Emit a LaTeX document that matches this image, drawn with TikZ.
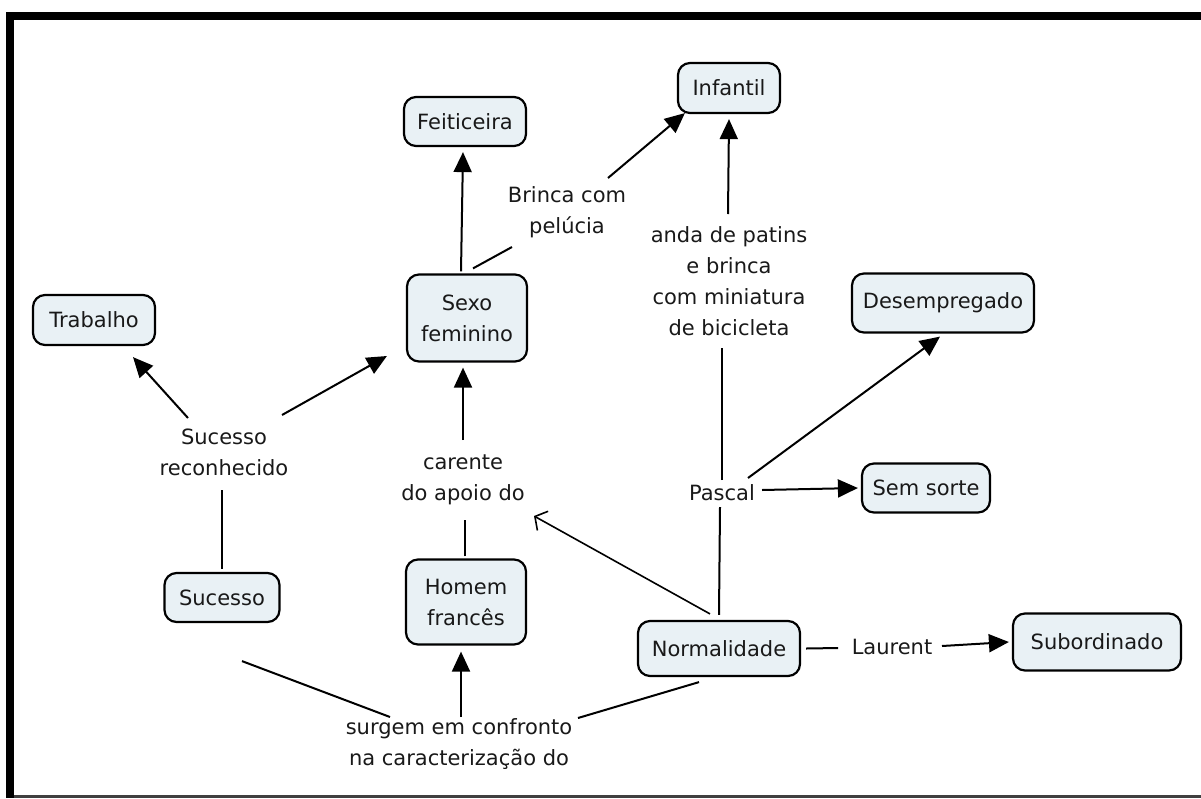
\documentclass[tikz,border=0pt]{standalone}
\usepackage{fontspec}
\setmainfont{DejaVu Sans}
\usetikzlibrary{arrows.meta,calc}
\definecolor{boxfill}{RGB}{233,241,245}
\definecolor{ink}{RGB}{25,25,25}

\begin{document}
\begin{tikzpicture}[x=1pt,y=-1pt,
  concept/.style={draw=black,line width=2.2pt,rounded corners=12pt,fill=boxfill,
    text=ink,font=\fontsize{21}{31}\selectfont,align=center,inner sep=0pt},
  phrase/.style={text=ink,font=\fontsize{21}{31}\selectfont,align=center,inner sep=0pt},
  link/.style={line width=2pt,draw=black},
  arr/.style={link,-{Triangle[length=20pt,width=18pt]}},
  openarr/.style={line width=1.6pt,-{Straight Barb[length=9pt,width=22pt]}}
]
\useasboundingbox (0,0) rectangle (1201,798);

% frame
\fill (6,12) rectangle (1201,20);
\fill (6,12) rectangle (14,798);
\fill[black!75] (14,795) rectangle (1201,798);

% concepts
\node[concept,minimum width=102pt,minimum height=50pt] (infantil) at (729,88) {Infantil};
\node[concept,minimum width=122pt,minimum height=49pt] (feiti) at (465,121.5) {Feiticeira};
\node[concept,minimum width=122pt,minimum height=50pt] (trab) at (94,320) {Trabalho};
\node[concept,minimum width=120pt,minimum height=87pt] (sexo) at (467,318) {Sexo\\feminino};
\node[concept,minimum width=182pt,minimum height=59pt] (desemp) at (943,303) {Desempregado};
\node[concept,minimum width=128pt,minimum height=49pt] (semsorte) at (926,488) {Sem sorte};
\node[concept,minimum width=115pt,minimum height=49pt] (sucesso) at (222,597.5) {Sucesso};
\node[concept,minimum width=120pt,minimum height=85pt] (homem) at (466,602) {Homem\\francês};
\node[concept,minimum width=162pt,minimum height=55pt] (normal) at (719,648.5) {Normalidade};
\node[concept,minimum width=168pt,minimum height=57pt] (subord) at (1097,642) {Subordinado};

% linking phrases
\node[phrase] (brinca) at (567,212) {Brinca com\\pelúcia};
\node[phrase] (anda) at (729,281) {anda de patins\\e brinca\\com miniatura\\de bicicleta};
\node[phrase] (pascal) at (722,493) {Pascal};
\node[phrase] (laurent) at (892,647) {Laurent};
\node[phrase] (carente) at (463,480) {carente\\do apoio do};
\node[phrase] (sucrec) at (224,452) {Sucesso\\reconhecido};
\node[phrase] (surgem) at (459,744) {surgem em confronto\\na caracterização do};

% connectors
\draw[arr] ($(sexo.north)+(-6,-2)$) -- ($(feiti.south)+(-2,5)$);
\draw[link] ($(sexo.north)+(6,-5)$) -- ($(brinca)+(-55,35)$);
\draw[arr] ($(brinca)+(41,-34)$) -- ($(infantil.south west)+(8,-1)$);
\draw[arr] ($(anda)+(-1,-67)$) -- ($(infantil.south)+(0,5)$);
\draw[link] ($(normal.north)+(0,-5)$) -- ($(pascal)+(-2,14)$);
\draw[link] ($(pascal)+(0,-13)$) -- ($(anda)+(-7,67)$);
\draw[arr] ($(pascal)+(26,-15)$) -- ($(desemp.south)+(-3,3)$);
\draw[arr] ($(pascal)+(40,-3)$) -- ($(semsorte.west)+(-3,0)$);
\draw[link] ($(normal.east)+(5,0)$) -- ($(laurent)+(-54,1)$);
\draw[arr] ($(laurent)+(50,-1)$) -- ($(subord.west)+(-3,0)$);
\draw[arr] ($(carente)+(0,-40)$) -- ($(sexo.south)+(-4,5)$);
\draw[link] ($(homem.north)+(-1,-2)$) -- ($(carente)+(2,40)$);
\draw[openarr] ($(normal.north)+(-9,-6)$) -- ($(carente)+(71,36)$);
\draw[link] ($(sucesso.north)+(0,-3)$) -- ($(sucrec)+(-2,38)$);
\draw[arr] ($(sucrec)+(-36,-34)$) -- ($(trab.south)+(39,11)$);
\draw[arr] ($(sucrec)+(58,-37)$) -- ($(sexo.west)+(-19,38)$);
\draw[link] ($(sucesso.south)+(20,38)$) -- ($(surgem)+(-69,-27)$);
\draw[link] ($(normal.south)+(-20,5)$) -- ($(surgem)+(119,-26)$);
\draw[arr] ($(surgem)+(2,-27)$) -- ($(homem.south)+(-5,6)$);
\end{tikzpicture}
\end{document}
